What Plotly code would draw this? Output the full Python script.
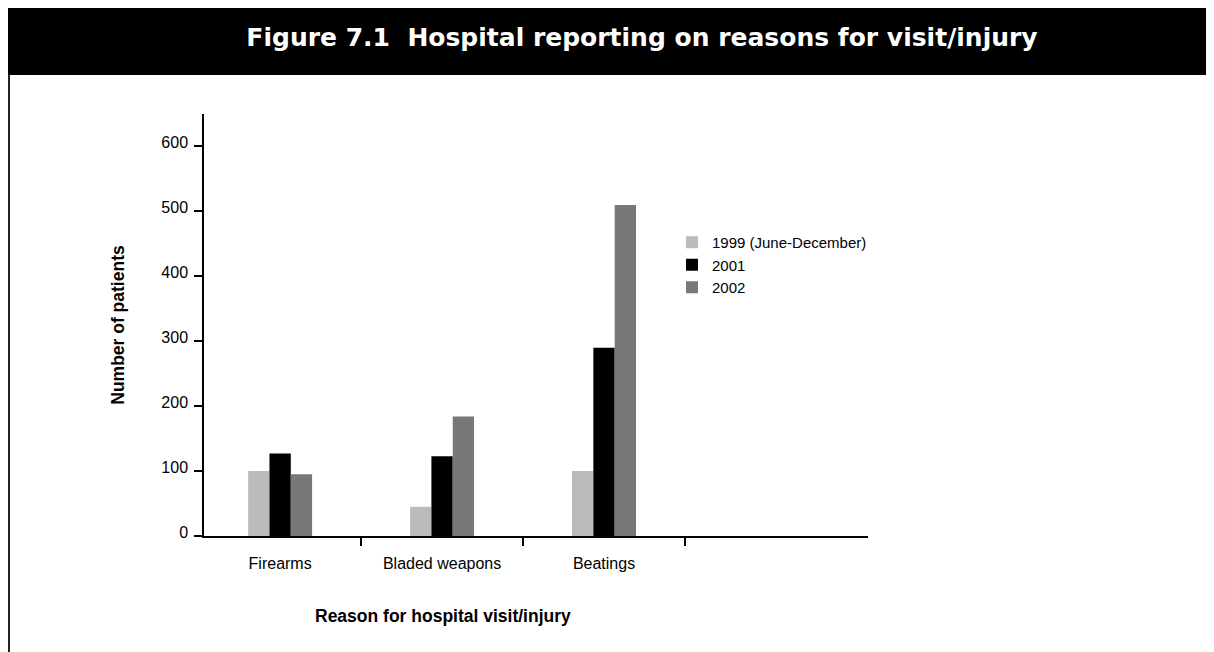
import plotly.graph_objects as go

# ---- data ----
categories = ["Firearms", "Bladed weapons", "Beatings"]
series_names = ["1999 (June-December)", "2001", "2002"]
values_1999 = [100, 45, 100]
values_2001 = [127, 123, 290]
values_2002 = [95, 184, 510]
y_ticks = [0, 100, 200, 300, 400, 500, 600]

colors = ["#bbbbbb", "#000000", "#787878"]
series_values = [values_1999, values_2001, values_2002]

# page body has an 8px margin; work in figure pixels
W, H = 1206, 644
L, R, T, B = 196, 346, 106, 116
pw, ph = W - L - R, H - T - B

def px_x(px):
    return (px - L) / pw

def px_y(py):
    return (H - B - py) / ph

fig = go.Figure()
for i, (name, vals) in enumerate(zip(series_names, series_values)):
    fig.add_trace(go.Bar(
        x=categories, y=vals, name=name,
        marker=dict(color=colors[i], line=dict(width=0)),
        legendgroup=f"g{i}",
    ))

FONT = "Liberation Sans, Arial, Helvetica, sans-serif"

fig.update_layout(
    width=W, height=H,
    margin=dict(l=L, r=R, t=T, b=B, autoexpand=False),
    paper_bgcolor="white", plot_bgcolor="white",
    barmode="group", bargap=0.605, bargroupgap=0,
    font=dict(family=FONT, color="black", size=16),
    title=dict(
        text="Figure 7.1  Hospital reporting on reasons for visit/injury",
        font=dict(family="DejaVu Sans", size=25, color="white", weight="bold"),
        x=634 / W, xanchor="center", y=1 - 29 / H, yanchor="middle",
        xref="container", yref="container",
    ),
    legend=dict(
        x=px_x(664), y=px_y(218), xanchor="left", yanchor="top",
        font=dict(family=FONT, size=15, color="black"),
        bgcolor="rgba(0,0,0,0)", tracegroupgap=5,
        traceorder="normal",
    ),
    xaxis=dict(
        type="category", categoryorder="array", categoryarray=categories,
        range=[-0.47, 3.63],
        showline=True, linecolor="black", linewidth=1.5,
        ticks="outside", tickson="boundaries", ticklen=8, tickwidth=1.5,
        tickcolor="black", showgrid=False, zeroline=False,
        tickfont=dict(family=FONT, size=16, color="black"),
        ticklabelstandoff=12,
    ),
    yaxis=dict(
        range=[0, 650], tickvals=y_ticks,
        showline=True, linecolor="black", linewidth=1.5,
        ticks="outside", ticklen=8, tickwidth=1.5, tickcolor="black",
        showgrid=False, zeroline=False,
        tickfont=dict(family=FONT, size=16, color="black"),
        ticklabelstandoff=3, ticklabelshift=-4,
        title=dict(text="Number of patients",
                   font=dict(family=FONT, size=17.5, color="black", weight="bold"),
                   standoff=32),
    ),
    annotations=[
        dict(text="Reason for hospital visit/injury", showarrow=False,
             xref="paper", yref="paper", x=px_x(435), y=px_y(608),
             xanchor="center", yanchor="middle",
             font=dict(family=FONT, size=17.5, color="black", weight="bold")),
    ],
    shapes=[
        dict(type="rect", xref="paper", yref="paper",
             x0=px_x(0), x1=px_x(W), y0=px_y(67), y1=px_y(0),
             fillcolor="black", line=dict(width=0), layer="below"),
        dict(type="line", xref="paper", yref="paper",
             x0=px_x(1), x1=px_x(1), y0=px_y(H), y1=px_y(67),
             line=dict(color="#222222", width=2), layer="below"),
    ],
)

fig.write_html("out.html")
